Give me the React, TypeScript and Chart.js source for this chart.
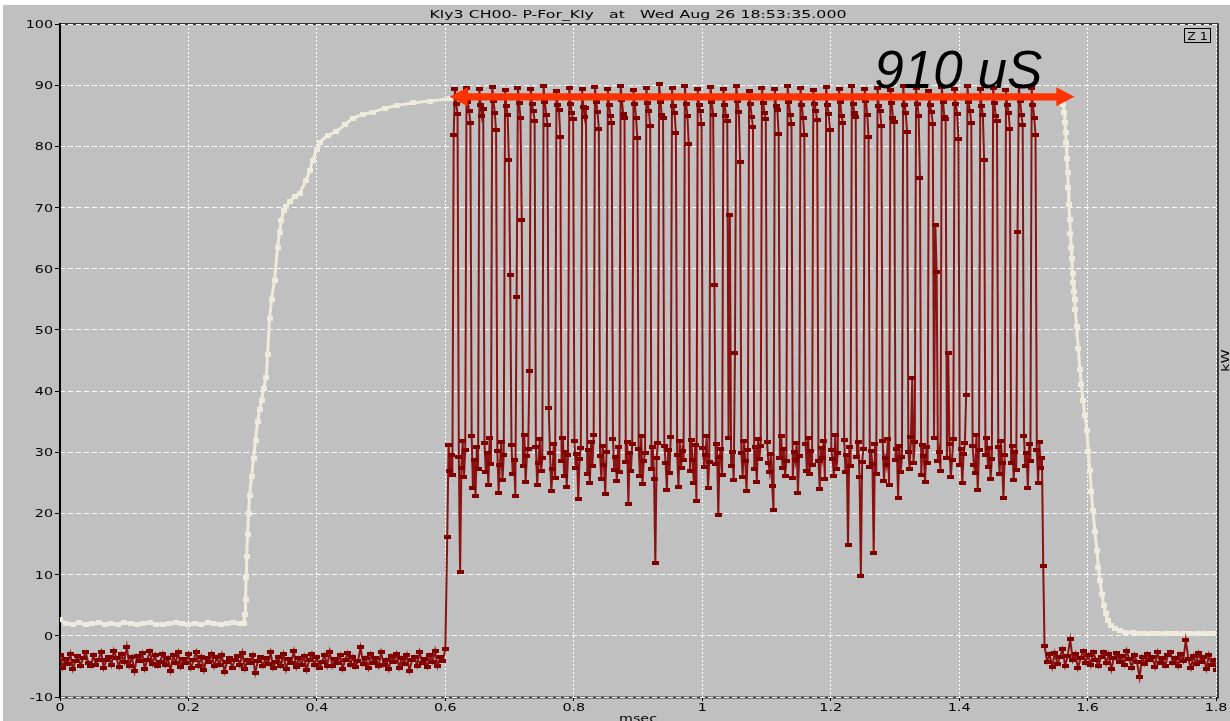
import { useEffect, useRef } from 'react';
import { Chart, registerables } from 'chart.js';

Chart.register(...registerables);

const W = 1230;
const H = 721;

// ---- text ----
const chartTitle = 'Kly3 CH00- P-For_Kly   at   Wed Aug 26 18:53:35.000';
const xAxisTitle = 'msec';
const yAxisTitle = 'kW';
const zoomTag = 'Z 1';
const spanLabel = '910 uS';

// ---- axes ----
const xTickValues = [0, 0.2, 0.4, 0.6, 0.8, 1, 1.2, 1.4, 1.6, 1.8];
const xTickLabels = ['0', '0.2', '0.4', '0.6', '0.8', '1', '1.2', '1.4', '1.6', '1.8'];
const yTickValues = [-10, 0, 10, 20, 30, 40, 50, 60, 70, 80, 90, 100];
const yTickLabels = ['-10', '0', '10', '20', '30', '40', '50', '60', '70', '80', '90', '100'];

// ---- forward power (kW): baseline before the pulse train, 4 us record ----
const preNoiseStep = 0.004;
const preNoise = [
  -3.1, -5.2, -3.8, -4.6, -2.9, -5.5, -4.1, -3.3, -4.9, -3.6,
  -2.7, -4.4, -5.0, -3.2, -4.7, -3.9, -2.6, -5.3, -4.0, -3.4,
  -4.8, -2.4, -3.7, -5.1, -3.0, -4.3, -1.8, -4.9, -3.5, -5.8,
  -3.3, -4.1, -2.8, -5.4, -3.9, -2.5, -4.6, -3.1, -5.0, -4.2,
  -2.9, -4.8, -3.6, -5.7, -3.2, -4.4, -2.7, -5.1, -3.8, -4.5,
  -3.0, -5.3, -4.0, -2.6, -4.9, -3.4, -5.6, -3.7, -4.2, -2.9,
  -5.0, -3.5, -4.7, -3.1, -5.9, -4.3, -3.6, -5.2, -4.0, -3.3,
  -4.8, -2.8, -5.4, -3.9, -4.5, -3.2, -6.1, -4.1, -3.5, -5.0,
  -3.7, -4.6, -2.7, -5.3, -4.2, -3.4, -4.9, -3.0, -5.5, -3.8,
  -4.4, -2.5, -5.1, -3.6, -4.7, -3.3, -5.6, -4.0, -2.9, -4.8,
  -3.5, -5.2, -4.3, -3.1, -4.9, -2.6, -5.0, -3.8, -4.5, -3.2,
  -5.4, -3.9, -2.8, -4.7, -3.4, -5.1, -4.1, -1.9, -4.6, -3.6,
  -5.3, -3.0, -4.4, -3.7, -5.0, -2.7, -4.8, -3.9, -5.5, -3.3,
  -4.2, -2.9, -5.2, -3.6, -4.6, -3.1, -5.7, -4.0, -3.4, -4.9,
  -2.6, -4.5, -3.8, -5.1, -3.2, -4.3, -2.4, -5.0, -3.5, -4.1,
  -2.2,
];

// leading edge samples, 2 us apart
const leadInStart = 0.603;
const leadInStep = 0.002;
const leadIn = [16.1, 31.2, 27.0, 29.6, 26.3];

// pulse train: each period holds 4 samples on top and 6 samples between pulses
const pulseStart = 0.613;
const pulsePeriod = 0.02;
const pulseSampleStep = 0.002;
const pulseHigh = [
  [81.9, 89.4, 86.9, 85.3], [89.6, 87.2, 85.8, 83.9], [89.3, 86.8, 84.9, 86.1], [89.7, 87.4, 85.5, 82.6],
  [89.2, 86.6, 85.1, 77.7], [89.5, 87.1, 84.6, 68.0], [89.4, 86.9, 85.7, 84.2], [89.8, 87.3, 85.2, 83.5],
  [89.1, 86.7, 85.9, 81.6], [89.6, 87.0, 85.4, 84.4], [89.3, 86.5, 84.8, 86.2], [89.7, 87.2, 85.6, 82.9],
  [89.4, 86.8, 85.0, 83.8], [89.9, 87.5, 85.3, 84.6], [89.2, 86.9, 84.7, 81.3], [89.6, 87.1, 85.8, 83.4],
  [90.2, 87.3, 85.1, 84.7], [89.5, 86.6, 85.5, 82.2], [89.8, 87.0, 84.9, 80.4], [89.3, 86.8, 85.7, 83.6],
  [89.7, 87.2, 85.2, 57.4], [89.4, 86.7, 85.0, 84.1], [89.9, 87.4, 85.6, 77.5], [89.1, 86.9, 84.8, 83.2],
  [89.6, 87.1, 85.4, 84.5], [89.3, 86.6, 85.9, 82.0], [89.8, 87.3, 85.1, 83.7], [89.5, 86.8, 84.6, 81.8],
  [89.2, 87.0, 85.7, 84.3], [89.7, 86.7, 85.3, 82.7], [89.4, 87.2, 84.9, 83.9], [89.9, 86.9, 85.5, 84.8],
  [89.3, 87.4, 85.2, 81.5], [89.6, 86.6, 85.8, 83.3], [89.2, 87.1, 84.7, 84.0], [89.8, 86.8, 85.4, 82.4],
  [89.5, 87.0, 85.0, 74.9], [89.1, 86.7, 85.6, 83.6], [89.7, 87.3, 84.8, 84.4], [89.4, 86.9, 85.3, 81.2],
  [89.9, 87.2, 85.7, 83.8], [89.3, 86.6, 85.1, 77.7], [89.6, 87.1, 84.9, 84.2], [89.2, 86.8, 85.5, 82.8],
  [89.8, 87.4, 85.2, 83.5], [89.5, 86.7, 84.6, 81.9],
];
const pulseLow = [
  [29.2, 10.4, 27.5, 31.8, 25.9, 30.4], [32.6, 24.1, 28.7, 22.8, 30.9, 27.3], [31.5, 26.8, 29.9, 24.6, 32.3, 28.1],
  [30.2, 23.4, 27.9, 31.7, 25.5, 29.6], [59.0, 31.2, 26.4, 28.8, 22.9, 55.4], [27.7, 32.8, 25.1, 29.4, 30.6, 43.3],
  [30.8, 24.7, 28.3, 32.1, 26.9, 29.0], [37.3, 29.8, 23.6, 27.2, 31.4, 25.8], [28.6, 32.4, 26.2, 30.1, 24.3, 29.5],
  [31.9, 27.4, 29.7, 22.4, 28.9, 30.7], [26.5, 30.3, 24.9, 31.6, 27.8, 32.9], [29.4, 25.6, 31.1, 28.0, 23.2, 30.0],
  [32.2, 27.1, 29.3, 25.3, 30.8, 26.7], [28.4, 31.7, 21.6, 29.8, 27.0, 31.3], [30.5, 26.1, 32.7, 24.8, 28.6, 29.9],
  [27.3, 30.9, 25.7, 11.9, 29.1, 31.5], [31.0, 28.2, 23.9, 30.4, 26.6, 32.5], [29.6, 24.4, 31.8, 27.5, 30.2, 28.7],
  [26.9, 32.0, 28.8, 25.0, 31.2, 22.1], [30.7, 27.6, 29.5, 32.6, 24.2, 28.4], [28.1, 31.4, 19.8, 29.2, 30.6, 26.3],
  [32.3, 68.8, 27.7, 30.0, 25.4, 46.2], [29.9, 26.0, 31.9, 28.5, 23.7, 30.3], [27.2, 30.8, 25.2, 32.2, 28.9, 31.1],
  [31.6, 28.3, 26.8, 29.7, 24.5, 20.5], [29.0, 32.7, 27.4, 30.5, 26.2, 28.6], [25.8, 30.1, 28.7, 31.5, 23.3, 29.4],
  [31.3, 27.0, 32.4, 26.4, 30.2, 28.0], [28.5, 24.0, 30.7, 29.1, 31.9, 25.6], [30.4, 28.9, 26.1, 32.8, 27.3, 29.8],
  [32.0, 26.7, 29.6, 14.9, 30.9, 27.8], [29.3, 31.6, 25.9, 9.8, 28.4, 30.6], [27.6, 30.2, 28.1, 13.5, 31.4, 26.5],
  [31.8, 25.3, 29.0, 27.9, 32.1, 24.7], [28.7, 30.5, 22.6, 31.0, 26.8, 29.2], [30.0, 27.2, 32.5, 42.1, 28.3, 31.7],
  [26.3, 31.2, 29.4, 25.1, 30.8, 28.2], [32.4, 67.2, 59.5, 28.6, 30.1, 27.0], [29.1, 46.3, 31.3, 26.0, 28.8, 32.2],
  [27.9, 30.6, 24.9, 29.7, 31.5, 39.4], [31.1, 28.0, 26.6, 32.9, 23.8, 30.3], [29.5, 32.3, 27.6, 30.7, 25.7, 28.9],
  [30.9, 26.4, 31.8, 28.3, 22.5, 29.6], [28.2, 31.0, 25.5, 30.1, 27.1, 66.0], [32.6, 27.7, 29.9, 24.1, 31.3, 28.5],
  [30.3, 25.0, 31.6, 27.4, 29.0, 11.4],
];

// baseline after the pulse train, 4 us record
const postNoiseStart = 1.533;
const postNoiseStep = 0.004;
const postNoise = [
  -1.6, -4.2, -3.0, -5.1, -2.8, -4.6, -3.5, -2.2, -4.9, -3.3,
  -0.6, -4.0, -2.9, -5.3, -3.7, -2.5, -4.4, -3.1, -4.8, -2.7,
  -3.9, -5.0, -3.4, -2.6, -4.5, -3.0, -5.5, -3.6, -2.8, -4.2,
  -3.3, -4.7, -2.4, -3.8, -5.2, -3.1, -4.3, -6.8, -3.5, -4.6,
  -2.9, -4.0, -3.4, -5.1, -2.7, -4.4, -3.7, -4.9, -3.2, -2.6,
  -4.5, -3.6, -5.0, -3.0, -4.1, -0.7, -3.8, -5.3, -3.3, -4.6,
  -2.8, -4.2, -3.5, -5.4, -3.1, -4.7, -3.9, -5.6,
];

// ---- drive envelope (kW) ----
const envelopeTime = [
  0, 0.01, 0.02, 0.03, 0.04, 0.05, 0.06, 0.07, 0.08, 0.09, 0.10, 0.11, 0.12, 0.13, 0.14,
  0.15, 0.16, 0.17, 0.18, 0.19, 0.20, 0.21, 0.22, 0.23, 0.24, 0.25, 0.26, 0.27, 0.28,
  0.2858, 0.2882, 0.2889, 0.2897, 0.2905, 0.2921, 0.2936, 0.2952, 0.2983, 0.3014, 0.3045,
  0.3076, 0.3107, 0.3139, 0.3170, 0.3212, 0.3232, 0.3263, 0.3294, 0.3341, 0.3388, 0.3419,
  0.3446, 0.3481, 0.3523, 0.3575, 0.3653, 0.3731, 0.3835, 0.3886, 0.3933, 0.3995, 0.4042,
  0.4167, 0.4302, 0.4431, 0.4556, 0.4712, 0.4868, 0.5055, 0.5241, 0.5491, 0.5755, 0.6067,
  0.70, 0.85, 1.00, 1.15, 1.30, 1.45,
  1.5610, 1.5625, 1.5638, 1.5648, 1.5658, 1.5668, 1.5678, 1.5690, 1.5700, 1.5710, 1.5722,
  1.5734, 1.5746, 1.5756, 1.5766, 1.5776, 1.5786, 1.5798, 1.5810, 1.5829, 1.5855, 1.5880,
  1.5905, 1.5927, 1.5960, 1.5989, 1.6012, 1.6036, 1.6060, 1.6083, 1.6115, 1.6145, 1.6170,
  1.6192, 1.6222, 1.6254, 1.6285, 1.6316, 1.6370, 1.6425, 1.6500, 1.6581, 1.6700, 1.6815,
  1.69, 1.70, 1.71, 1.72, 1.73, 1.74, 1.75, 1.76, 1.77, 1.78, 1.79, 1.80,
];
const envelopeKw = [
  2.6, 2.0, 1.9, 2.1, 1.8, 2.0, 2.1, 1.9, 2.0, 1.8, 2.1, 2.0, 1.9, 2.0, 2.1,
  1.9, 1.8, 2.0, 2.1, 2.0, 1.9, 2.0, 1.8, 2.1, 2.0, 1.9, 2.0, 2.1, 2.0,
  2.0, 3.5, 6.0, 9.5, 13.0, 16.5, 20.0, 23.0, 26.0, 29.0, 32.0,
  35.0, 37.0, 38.5, 40.5, 42.3, 46.0, 51.9, 55.0, 58.1, 63.5, 66.0,
  67.9, 69.5, 70.1, 71.0, 71.8, 72.3, 74.5, 76.0, 77.7, 79.5, 80.7,
  81.8, 82.4, 83.5, 84.6, 85.2, 85.6, 86.2, 86.7, 87.1, 87.4, 87.8,
  88.0, 88.2, 88.3, 88.1, 88.3, 88.2,
  88.0, 86.8, 85.5, 83.9, 82.2, 80.6, 78.0, 75.7, 73.2, 70.5, 68.0,
  65.8, 63.4, 61.6, 59.3, 57.7, 56.3, 54.9, 53.3, 50.5, 47.0, 43.5,
  41.0, 38.5, 36.0, 33.6, 30.2, 27.0, 23.6, 20.5, 17.0, 14.0, 11.2,
  9.0, 6.8, 5.0, 3.6, 2.5, 1.7, 1.2, 0.9, 0.6, 0.5, 0.4,
  0.4, 0.3, 0.4, 0.3, 0.4, 0.4, 0.3, 0.4, 0.3, 0.4, 0.4, 0.3,
];

// ---- span marker ----
const spanFromMs = 0.6067;
const spanToMs = 1.5794;
const spanLevelKw = 88.1;
const spanLabelAt = { x: 1.268, y: 89.6 };

// ---- styles ----
const PANEL = '#c0c0c0';
const GRID = '#ffffff';
const TRACE_LINE = '#8a1212';
const TRACE_MARK = '#800000';
const ENVELOPE = '#eeebdc';
const SPAN_COLOR = '#ff3300';
const LABEL_FONT = '11px "DejaVu Sans", "Liberation Sans", sans-serif';
const TEXT_STRETCH = 1.3;

type Pt = { x: number; y: number };

function buildTrace(): Pt[] {
  const pts: Pt[] = [];
  preNoise.forEach((v, i) => pts.push({ x: i * preNoiseStep, y: v }));
  leadIn.forEach((v, i) => pts.push({ x: leadInStart + i * leadInStep, y: v }));
  pulseHigh.forEach((hi, k) => {
    const samples = [...hi, ...pulseLow[k]];
    samples.forEach((v, j) =>
      pts.push({ x: pulseStart + k * pulsePeriod + j * pulseSampleStep, y: v })
    );
  });
  postNoise.forEach((v, i) => pts.push({ x: postNoiseStart + i * postNoiseStep, y: v }));
  return pts;
}

function buildEnvelope(): Pt[] {
  return envelopeTime.map((t, i) => ({ x: t, y: envelopeKw[i] }));
}

function makeMarker(w: number, h: number, color: string): HTMLCanvasElement {
  const c = document.createElement('canvas');
  c.width = w;
  c.height = h;
  const g = c.getContext('2d')!;
  g.fillStyle = color;
  g.fillRect(0, 0, w, h);
  return c;
}

function stretchText(
  ctx: CanvasRenderingContext2D,
  text: string,
  x: number,
  y: number,
  align: CanvasTextAlign,
  sx: number
) {
  ctx.save();
  ctx.translate(x, y);
  ctx.scale(sx, 1);
  ctx.textAlign = align;
  ctx.textBaseline = 'alphabetic';
  ctx.fillText(text, 0, 0);
  ctx.restore();
}

function strokeLine(ctx: CanvasRenderingContext2D, x1: number, y1: number, x2: number, y2: number) {
  ctx.beginPath();
  ctx.moveTo(x1, y1);
  ctx.lineTo(x2, y2);
  ctx.stroke();
}

const panelPlugin = {
  id: 'scopePanel',
  beforeDraw(chart: any) {
    const { ctx, chartArea: a } = chart;
    ctx.save();
    ctx.fillStyle = '#ffffff';
    ctx.fillRect(0, 0, W, H);
    ctx.fillStyle = PANEL;
    ctx.fillRect(3, 5, W - 3, H - 5);
    // top and bottom frame, grid dashes are painted over these
    ctx.strokeStyle = '#333333';
    ctx.lineWidth = 2;
    strokeLine(ctx, a.left, a.top, a.right + 3, a.top);
    strokeLine(ctx, a.left, a.bottom + 0.5, a.right + 3, a.bottom + 0.5);
    ctx.restore();
  },
  beforeDatasetsDraw(chart: any) {
    const { ctx, chartArea: a } = chart;
    ctx.save();
    ctx.lineWidth = 2;
    ctx.strokeStyle = '#000000';
    strokeLine(ctx, a.left, a.top - 1, a.left, a.bottom + 1.5);
    ctx.strokeStyle = '#3a3a3a';
    strokeLine(ctx, a.right + 2, a.top - 1, a.right + 2, a.bottom + 1.5);
    ctx.restore();
  },
  afterDatasetsDraw(chart: any) {
    const { ctx, scales } = chart;
    const xs = scales.x;
    const ys = scales.y;
    // double-headed span arrow
    const xL = xs.getPixelForValue(spanFromMs);
    const xR = xs.getPixelForValue(spanToMs);
    const yc = ys.getPixelForValue(spanLevelKw);
    const head = 18;
    const headHalf = 9.5;
    const shaftHalf = 3.6;
    ctx.save();
    ctx.fillStyle = SPAN_COLOR;
    ctx.beginPath();
    ctx.moveTo(xL, yc);
    ctx.lineTo(xL + head, yc - headHalf);
    ctx.lineTo(xL + head, yc - shaftHalf);
    ctx.lineTo(xR - head, yc - shaftHalf);
    ctx.lineTo(xR - head, yc - headHalf);
    ctx.lineTo(xR, yc);
    ctx.lineTo(xR - head, yc + headHalf);
    ctx.lineTo(xR - head, yc + shaftHalf);
    ctx.lineTo(xL + head, yc + shaftHalf);
    ctx.lineTo(xL + head, yc + headHalf);
    ctx.closePath();
    ctx.fill();
    // span label
    ctx.fillStyle = '#000000';
    ctx.font = 'italic 53px "Liberation Sans", Arial, sans-serif';
    ctx.textAlign = 'left';
    ctx.textBaseline = 'alphabetic';
    ctx.fillText(spanLabel, xs.getPixelForValue(spanLabelAt.x), ys.getPixelForValue(spanLabelAt.y));
    ctx.restore();
  },
  afterDraw(chart: any) {
    const { ctx, chartArea: a, scales } = chart;
    const xs = scales.x;
    const ys = scales.y;
    ctx.save();
    ctx.fillStyle = '#000000';
    ctx.font = LABEL_FONT;
    ys.ticks.forEach((t: any) => {
      const label = yTickLabels[yTickValues.indexOf(t.value)];
      stretchText(ctx, label, a.left - 7, ys.getPixelForValue(t.value) + 4, 'right', TEXT_STRETCH);
    });
    xs.ticks.forEach((t: any) => {
      const label = xTickLabels[xTickValues.indexOf(t.value)];
      stretchText(ctx, label, xs.getPixelForValue(t.value), a.bottom + 14, 'center', TEXT_STRETCH);
    });
    const cx = (a.left + a.right) / 2;
    const tw = ctx.measureText(chartTitle).width;
    stretchText(ctx, chartTitle, cx, 17.5, 'center', 417 / tw);
    stretchText(ctx, xAxisTitle, cx, H + 1, 'center', TEXT_STRETCH);

    // right-hand unit label
    ctx.save();
    ctx.translate(a.right + 10, (a.top + a.bottom) / 2);
    ctx.rotate(-Math.PI / 2);
    ctx.scale(TEXT_STRETCH, 1);
    ctx.textAlign = 'center';
    ctx.textBaseline = 'middle';
    ctx.fillText(yAxisTitle, 0, 0);
    ctx.restore();

    // zoom tag box
    ctx.strokeStyle = '#000000';
    ctx.lineWidth = 1;
    ctx.strokeRect(a.right - 31.5, a.top + 4.5, 26, 14);
    stretchText(ctx, zoomTag, a.right - 18.5, a.top + 16, 'center', 1.15);
    ctx.restore();
  },
};

export default function App() {
  const canvasRef = useRef<HTMLCanvasElement>(null);

  useEffect(() => {
    const canvas = canvasRef.current;
    if (!canvas) return;
    const traceMarker = makeMarker(7, 4, TRACE_MARK);
    const envelopeMarker = makeMarker(6, 5, ENVELOPE);

    const chart = new Chart(canvas, {
      type: 'line',
      data: {
        datasets: [
          {
            label: 'P-For_Kly',
            data: buildTrace(),
            borderColor: TRACE_LINE,
            borderWidth: 2,
            pointStyle: traceMarker as any,
            pointRadius: 2,
            tension: 0,
            order: 1,
          },
          {
            label: 'drive',
            data: buildEnvelope(),
            borderColor: ENVELOPE,
            borderWidth: 3,
            pointStyle: envelopeMarker as any,
            pointRadius: 2,
            tension: 0,
            order: 2,
          },
        ],
      },
      options: {
        animation: false,
        responsive: false,
        devicePixelRatio: 1,
        parsing: false,
        events: [],
        layout: { padding: { top: 24, right: 14, left: 0, bottom: 0 } },
        plugins: {
          legend: { display: false },
          tooltip: { enabled: false },
          title: { display: false },
        },
        scales: {
          x: {
            type: 'linear',
            min: 0,
            max: 1.8,
            afterBuildTicks: (axis: any) => {
              axis.ticks = xTickValues.map((value) => ({ value }));
            },
            afterFit: (axis: any) => {
              axis.height = 24;
            },
            ticks: { display: false },
            grid: {
              color: (c: any) => (c.tick && c.tick.value === 0 ? 'rgba(0,0,0,0)' : GRID),
              lineWidth: 1,
              drawTicks: true,
              tickLength: 4,
              tickColor: '#000000',
              tickWidth: 1,
            },
            border: { display: false, dash: [2, 2] },
          },
          y: {
            type: 'linear',
            min: -10,
            max: 100,
            afterBuildTicks: (axis: any) => {
              axis.ticks = yTickValues.map((value) => ({ value }));
            },
            afterFit: (axis: any) => {
              axis.width = 60;
            },
            ticks: { display: false },
            grid: {
              color: GRID,
              lineWidth: 1,
              drawTicks: true,
              tickLength: 5,
              tickColor: '#000000',
              tickWidth: 1,
            },
            border: { display: false, dash: [5, 3] },
          },
        },
      },
      plugins: [panelPlugin],
    } as any);

    return () => chart.destroy();
  }, []);

  return (
    <div style={{ position: 'fixed', left: 0, top: 0, width: W, height: H, background: '#ffffff' }}>
      <canvas ref={canvasRef} width={W} height={H} style={{ display: 'block', width: W, height: H }} />
    </div>
  );
}
